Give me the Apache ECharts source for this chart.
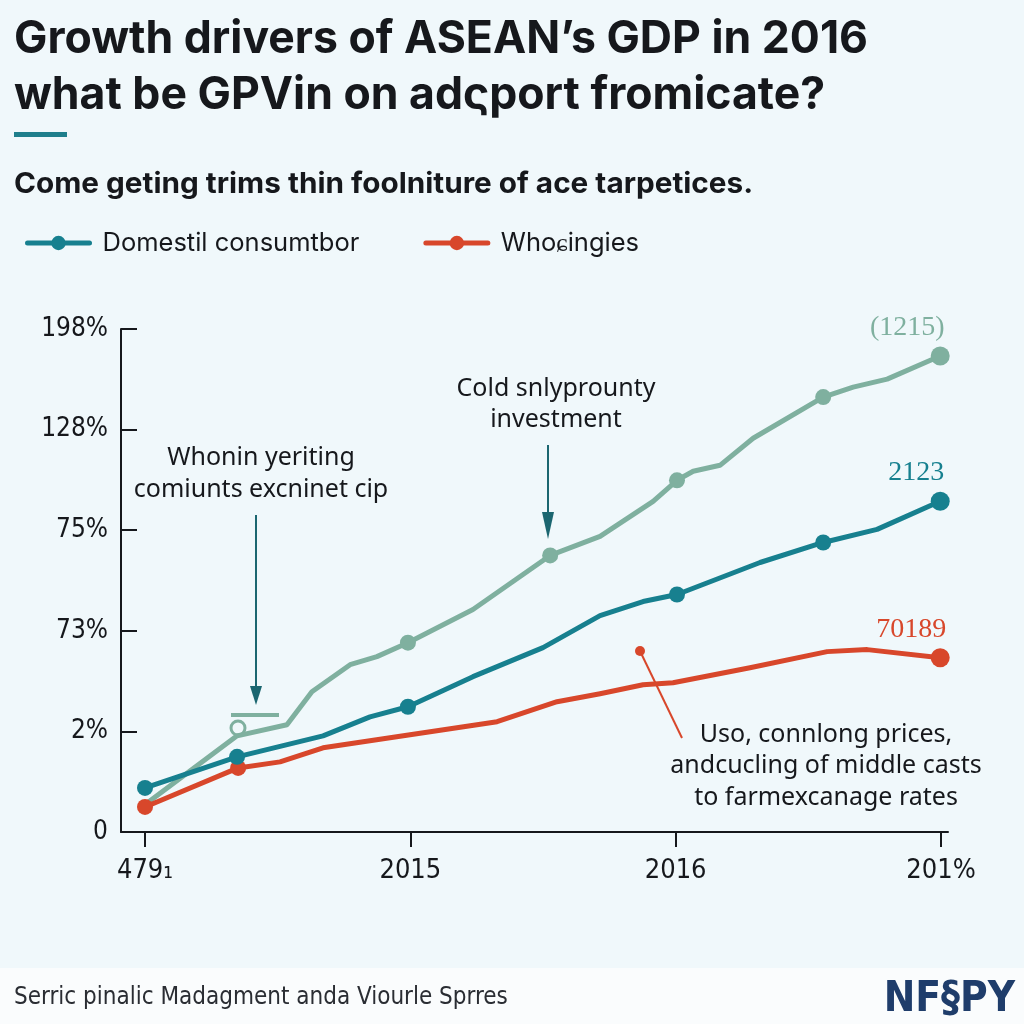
<!DOCTYPE html>
<html>
<head>
<meta charset="utf-8">
<script src="https://cdn.jsdelivr.net/npm/echarts@6/dist/echarts.min.js"></script>
<style>
html,body{margin:0;padding:0;background:#f0f8fb;}
#main{width:1024px;height:1024px;}
</style>
</head>
<body>
<div id="main"></div>
<script>
// ---- data ----
const xTickLabels = ['479\u2081', '2015', '2016', '201%'];
const yTickLabels = ['0', '2%', '73%', '75%', '128%', '198%'];

const seriesNames = ['Domestil consumtbor', 'Who\u0255ingies', 'Cold snlyprounty investment'];

const domesticX = [0, 0.347, 0.671, 0.848, 0.991, 1.236, 1.500, 1.715, 1.877, 2.005, 2.318, 2.556, 2.759, 2.997];
const domesticY = [0.438, 0.747, 0.956, 1.145, 1.245, 1.544, 1.833, 2.151, 2.291, 2.361, 2.679, 2.878, 3.008, 3.287];
const domesticMarked = [0, 1, 4, 9, 11, 13];

const wholeX = [0, 0.351, 0.509, 0.671, 0.999, 1.327, 1.553, 1.715, 1.877, 1.990, 2.280, 2.571, 2.722, 2.997];
const wholeY = [0.249, 0.637, 0.697, 0.837, 0.966, 1.096, 1.295, 1.375, 1.464, 1.484, 1.633, 1.793, 1.813, 1.733];
const wholeMarked = [0, 1, 13];

const investX = [0.008, 0.347, 0.535, 0.629, 0.773, 0.874, 0.991, 1.236, 1.527, 1.715, 1.915, 2.005, 2.066, 2.167, 2.292, 2.556, 2.669, 2.797, 2.997];
const investY = [0.289, 0.956, 1.066, 1.394, 1.663, 1.743, 1.882, 2.211, 2.749, 2.938, 3.287, 3.496, 3.586, 3.645, 3.914, 4.323, 4.422, 4.502, 4.731];
const investMarked = [6, 8, 11, 15, 18];

const endLabels = ['2123', '70189', '(1215)'];

// ---- styling ----
const TEAL = '#17808f', RED = '#d8472b', GREEN = '#7fb09f', INK = '#16181c';
const NARROW = "'Liberation Sans Narrow','DejaVu Sans Condensed','Liberation Sans',sans-serif";

function build(xs, ys, marked, label, labelOffset, color) {
  return xs.map(function (x, i) {
    const on = marked.indexOf(i) >= 0;
    const item = { value: [x, ys[i]], symbol: on ? 'circle' : 'none', symbolSize: (i === xs.length - 1) ? 19 : 16 };
    if (i === xs.length - 1) {
      item.label = {
        show: true, formatter: label, position: 'top', offset: labelOffset,
        color: color, fontFamily: "'Liberation Serif',serif", fontSize: 28
      };
    }
    return item;
  });
}

const chart = echarts.init(document.getElementById('main'), null, { renderer: 'canvas' });

const option = {
  animation: false,
  backgroundColor: '#f0f8fb',
  grid: [
    { left: 145, right: 83, top: 329, bottom: 192 },
    { left: 121, right: 76, top: 329, bottom: 192 }
  ],
  xAxis: [
    {
      gridIndex: 0, type: 'value', min: 0, max: 3, interval: 1,
      axisLine: { show: false },
      axisTick: { show: true, length: 15, lineStyle: { color: INK, width: 2 } },
      splitLine: { show: false },
      axisLabel: {
        margin: 25, color: INK, fontFamily: NARROW, fontSize: 27,
        formatter: function (v) { return xTickLabels[Math.round(v)]; }
      }
    },
    {
      gridIndex: 1, type: 'value', min: 0, max: 1,
      axisLine: { show: true, lineStyle: { color: INK, width: 2 } },
      axisTick: { show: false }, axisLabel: { show: false }, splitLine: { show: false }
    }
  ],
  yAxis: [
    { gridIndex: 0, type: 'value', min: 0, max: 5, interval: 1, show: false },
    {
      gridIndex: 1, type: 'value', min: 0, max: 5, interval: 1,
      axisLine: { show: true, lineStyle: { color: INK, width: 2 } },
      axisTick: { show: true, inside: true, length: 16, lineStyle: { color: INK, width: 2 } },
      splitLine: { show: false },
      axisLabel: {
        margin: 13, color: INK, fontFamily: NARROW, fontSize: 26,
        formatter: function (v) { return yTickLabels[Math.round(v)]; }
      }
    }
  ],
  legend: {
    data: [seriesNames[0], seriesNames[1]],
    left: 20, top: 225, itemWidth: 62, itemHeight: 18, itemGap: 64,
    lineStyle: { width: 5 },
    textStyle: { fontFamily: 'Inter', fontSize: 25.5, color: INK, padding: [0, 0, 0, 8] }
  },
  series: [
    {
      name: seriesNames[2], type: 'line', xAxisIndex: 0, yAxisIndex: 0, z: 2,
      data: build(investX, investY, investMarked, endLabels[2], [-33, 0], GREEN),
      lineStyle: { color: GREEN, width: 5, cap: 'round', join: 'round' },
      itemStyle: { color: GREEN }
    },
    {
      name: seriesNames[1], type: 'line', xAxisIndex: 0, yAxisIndex: 0, z: 3,
      symbol: 'circle',
      data: build(wholeX, wholeY, wholeMarked, endLabels[1], [-29, 0], RED),
      lineStyle: { color: RED, width: 5, cap: 'round', join: 'round' },
      itemStyle: { color: RED }
    },
    {
      name: seriesNames[0], type: 'line', xAxisIndex: 0, yAxisIndex: 0, z: 4,
      symbol: 'circle',
      data: build(domesticX, domesticY, domesticMarked, endLabels[0], [-24, 0], TEAL),
      lineStyle: { color: TEAL, width: 5, cap: 'round', join: 'round' },
      itemStyle: { color: TEAL }
    }
  ],
  graphic: [
    { type: 'rect', left: 0, top: 968, shape: { width: 1024, height: 56 }, style: { fill: '#fafcfd' }, z: -1 },
    { type: 'text', x: 14, y: 17, scaleX: 0.99, style: { text: 'Growth drivers of ASEAN\u2019s GDP in 2016', font: "bold 45px Inter", fill: INK } },
    { type: 'text', x: 14, y: 73, scaleX: 0.99, style: { text: 'what be GPVin on ad\u03c2port fromicate?', font: "bold 45px Inter", fill: INK } },
    { type: 'rect', shape: { x: 14, y: 132, width: 53, height: 5 }, style: { fill: '#1f7f8c' } },
    { type: 'text', x: 14, y: 170, scaleX: 1.025, style: { text: 'Come geting trims thin foolniture of ace tarpetices.', font: "bold 29px Inter", fill: INK } },

    // annotation 1
    { type: 'text', x: 261, y: 474, style: { text: 'Whonin yeriting\ncomiunts excninet cip', font: "25px 'Noto Sans'", fill: INK, align: 'center', verticalAlign: 'middle', lineHeight: 32 } },
    { type: 'line', shape: { x1: 256, y1: 515, x2: 256, y2: 692 }, style: { stroke: '#1b6670', lineWidth: 2 } },
    { type: 'polygon', shape: { points: [[250, 686], [262, 686], [256, 705]] }, style: { fill: '#1b6670' } },
    // annotation 2
    { type: 'text', x: 556, y: 404, style: { text: 'Cold snlyprounty\ninvestment', font: "25px 'Noto Sans'", fill: INK, align: 'center', verticalAlign: 'middle', lineHeight: 31 } },
    { type: 'line', shape: { x1: 548, y1: 445, x2: 548, y2: 527 }, style: { stroke: '#1b6670', lineWidth: 2 } },
    { type: 'polygon', shape: { points: [[542, 512], [554, 512], [548, 539]] }, style: { fill: '#1b6670' } },
    // annotation 3
    { type: 'line', shape: { x1: 640, y1: 651, x2: 682, y2: 738 }, style: { stroke: RED, lineWidth: 2 } },
    { type: 'circle', shape: { cx: 640, cy: 651, r: 5 }, style: { fill: RED } },
    { type: 'text', x: 826, y: 766, style: { text: 'Uso, connlong prices,\nandcucling of middle casts\nto farmexcanage rates', font: "25px 'Noto Sans'", fill: INK, align: 'center', verticalAlign: 'middle', lineHeight: 31.5 } },
    // scribble
    { type: 'line', shape: { x1: 231, y1: 715, x2: 279, y2: 715 }, style: { stroke: GREEN, lineWidth: 4 }, z: 1 },
    { type: 'circle', shape: { cx: 238, cy: 728, r: 7 }, style: { fill: 'none', stroke: GREEN, lineWidth: 3 }, z: 1 },

    // footer
    { type: 'text', x: 14, y: 998, style: { text: 'Serric pinalic Madagment anda Viourle Sprres', font: "24px " + NARROW, fill: '#2a2d33', verticalAlign: 'middle' } },
    { type: 'text', x: 1015, y: 1000, style: { text: 'NF\u00a7PY', font: "bold 42px " + NARROW, fill: '#1f3d6b', align: 'right', verticalAlign: 'middle' } }
  ]
};
chart.setOption(option);
</script>
</body>
</html>
